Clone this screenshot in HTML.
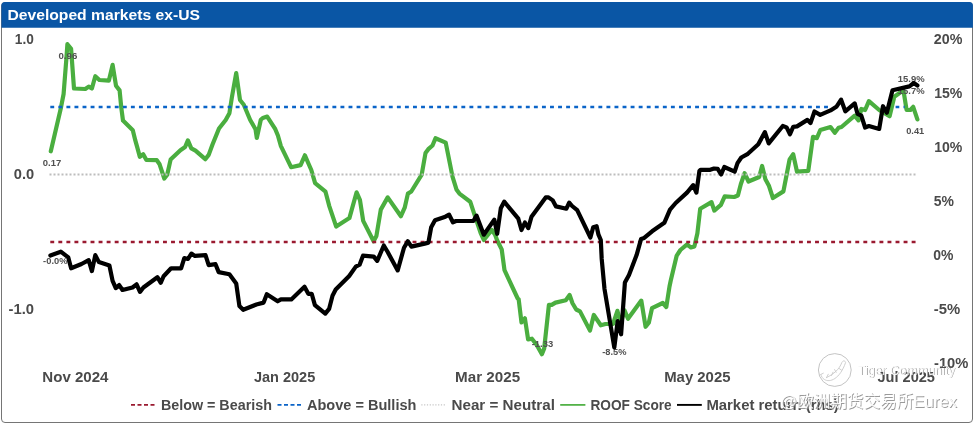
<!DOCTYPE html>
<html><head><meta charset="utf-8"><title>Developed markets ex-US</title>
<style>
html,body{margin:0;padding:0;background:#fff;}
body{width:975px;height:424px;overflow:hidden;position:relative;font-family:"Liberation Sans","Noto Sans CJK SC",sans-serif;}
svg{position:absolute;left:0;top:0;display:block}
text{font-family:"Liberation Sans","Noto Sans CJK SC",sans-serif;}
.ax{font-weight:bold;font-size:14.3px;fill:#4a4a4a}
.lb{font-weight:bold;font-size:9.8px;fill:#505050}
.wm{fill:#fff;fill-opacity:0.92}
.wms{fill:#888;fill-opacity:0.85}
</style></head><body>
<svg width="975" height="424" viewBox="0 0 975 424">
<rect x="0" y="0" width="975" height="424" fill="#fff"/>
<!-- frame -->
<rect x="1.5" y="2.5" width="971" height="420" rx="3.5" ry="3.5" fill="#fff" stroke="#757575" stroke-width="1"/>
<path d="M1.4,27.8 V5.5 Q1.4,1.9 5,1.9 H969.3 Q972.9,1.9 972.9,5.5 V27.8 Z" fill="#0a56a5"/>
<text x="7.4" y="20.4" font-weight="bold" font-size="15.5" fill="#fff" textLength="192.6" lengthAdjust="spacingAndGlyphs">Developed markets ex-US</text>

<!-- reference lines -->

<!-- series -->
<path d="M50.8,151.3 L61.0,107.4 L63.6,94.0 L66.4,58.3 L67.4,44.2 L71.1,48.9 L74.0,88.5 L85.3,89.0 L88.7,86.6 L91.9,88.5 L95.3,76.2 L99.4,80.0 L108.9,80.6 L112.6,64.9 L116.0,85.7 L119.6,90.4 L121.3,107.8 L123.0,120.6 L132.8,130.2 L135.3,140.4 L137.0,146.4 L139.8,156.8 L143.2,154.3 L146.4,160.0 L156.8,160.2 L159.6,164.3 L164.3,178.5 L167.2,174.7 L170.6,159.6 L180.4,150.2 L185.1,147.0 L187.9,140.4 L191.3,148.3 L195.5,150.6 L205.3,159.2 L208.7,154.9 L212.5,144.5 L219.0,128.5 L225.7,120.0 L229.4,113.2 L231.9,97.2 L236.2,73.0 L240.0,100.0 L243.8,104.7 L250.2,120.0 L255.5,129.2 L256.8,138.0 L260.8,119.8 L262.8,118.0 L267.2,116.6 L275.3,129.2 L277.9,135.5 L280.8,145.8 L291.1,167.2 L300.6,165.1 L304.9,155.3 L308.1,162.8 L311.3,170.0 L315.1,183.2 L325.5,191.7 L329.2,205.8 L336.2,226.6 L349.4,218.1 L356.6,192.3 L360.0,200.2 L363.2,220.9 L373.6,241.3 L376.4,236.0 L380.8,209.6 L387.7,197.4 L400.9,216.2 L404.7,207.7 L407.9,193.6 L411.3,191.5 L421.7,174.7 L425.5,153.0 L428.3,149.2 L432.5,145.5 L435.5,138.3 L445.7,142.6 L452.5,176.6 L456.6,189.8 L459.4,193.6 L470.2,201.7 L474.9,215.8 L480.6,232.8 L483.8,240.0 L491.9,230.0 L495.1,234.7 L497.0,240.0 L501.7,249.4 L504.5,270.2 L517.7,298.5 L518.7,299.4 L521.5,322.5 L524.9,318.3 L528.1,339.4 L531.9,338.7 L536.6,344.7 L541.9,354.2 L544.2,348.5 L548.9,304.9 L551.7,304.9 L555.5,302.6 L565.8,300.2 L569.6,295.0 L572.5,303.2 L576.2,309.5 L580.0,311.4 L590.0,330.6 L593.8,315.0 L600.8,325.3 L605.5,324.0 L613.0,324.0 L617.4,310.8 L620.6,323.0 L624.5,310.3 L628.0,318.8 L641.3,300.6 L645.6,326.8 L648.8,322.8 L652.0,308.2 L662.8,303.0 L666.3,307.0 L669.5,286.5 L670.7,280.7 L676.6,255.9 L680.4,250.0 L687.1,244.4 L690.8,247.5 L694.4,246.4 L697.4,233.2 L700.2,208.7 L711.5,202.1 L714.3,210.6 L720.9,204.9 L724.7,196.4 L734.2,197.0 L737.9,195.5 L740.8,184.2 L744.6,173.2 L748.5,181.5 L759.2,177.0 L762.1,166.0 L765.4,179.2 L768.8,185.4 L772.9,198.0 L783.4,191.4 L786.0,178.0 L789.6,159.5 L793.2,154.3 L797.0,171.7 L808.3,170.8 L813.0,136.8 L816.8,138.2 L820.3,130.0 L830.5,127.0 L834.8,132.8 L838.6,127.8 L841.5,127.0 L854.7,115.7 L858.5,120.4 L861.3,109.0 L865.1,110.0 L868.9,101.1 L879.2,110.0 L889.6,116.2 L894.3,96.8 L903.4,90.2 L906.6,110.0 L910.4,110.0 L913.2,106.8 L917.4,119.4" fill="none" stroke="#4aae3f" stroke-width="4.2" stroke-linejoin="round" stroke-linecap="round"/>
<line x1="49.5" y1="174.5" x2="916.5" y2="174.5" stroke="#bdbdbd" stroke-width="2" stroke-dasharray="2 2"/>
<line x1="50.3" y1="107" x2="829" y2="107" stroke="#0b64c8" stroke-width="2.7" stroke-dasharray="3.9 4.16"/>
<path d="M895.6,107 H899.3 M903.5,107 H904.7" stroke="#0b64c8" stroke-width="2.7" fill="none"/>
<line x1="50.3" y1="242" x2="916" y2="242" stroke="#9a1a30" stroke-width="2.7" stroke-dasharray="3.9 4.15"/>
<!-- data labels -->
<text class="lb" x="42.8" y="165.6" textLength="18.4" lengthAdjust="spacingAndGlyphs">0.17</text>
<text class="lb" x="58.5" y="58.8" textLength="18.8" lengthAdjust="spacingAndGlyphs">0.96</text>
<text class="lb" x="43.1" y="263.7" textLength="24.4" lengthAdjust="spacingAndGlyphs">-0.0%</text>
<text class="lb" x="531.7" y="346.5" textLength="21.5" lengthAdjust="spacingAndGlyphs">-1.33</text>
<text class="lb" x="602.2" y="355.2" textLength="24.3" lengthAdjust="spacingAndGlyphs">-8.5%</text>
<text class="lb" x="897.8" y="82.2" textLength="26.8" lengthAdjust="spacingAndGlyphs">15.9%</text>
<text class="lb" x="897.8" y="93.6" textLength="26.8" lengthAdjust="spacingAndGlyphs">15.7%</text>
<text class="lb" x="906.2" y="133.7" textLength="18" lengthAdjust="spacingAndGlyphs">0.41</text>

<path d="M50.4,255.5 L60.8,251.7 L68.3,257.4 L71.1,268.3 L81.5,264.0 L88.7,260.2 L91.9,271.1 L95.3,255.1 L98.9,262.1 L109.4,265.5 L112.6,280.9 L115.8,288.1 L119.2,285.1 L122.5,290.0 L132.5,287.5 L136.6,284.3 L140.0,291.9 L143.4,287.5 L157.4,277.2 L160.8,282.8 L163.6,276.2 L171.1,268.3 L181.1,268.3 L184.3,258.1 L188.0,259.0 L191.4,253.6 L194.9,255.9 L205.5,255.1 L208.7,265.1 L215.5,264.2 L218.7,272.1 L229.4,274.3 L236.2,283.4 L239.4,306.0 L243.2,309.8 L256.4,304.5 L263.6,302.6 L266.8,294.2 L277.7,301.3 L280.9,299.4 L291.3,299.4 L304.5,286.8 L308.3,293.8 L311.7,293.8 L314.9,305.1 L325.3,313.6 L329.1,308.9 L332.5,295.7 L335.7,289.5 L349.2,276.0 L355.8,266.6 L359.6,264.7 L363.0,255.7 L373.8,256.6 L377.2,260.9 L383.8,245.5 L387.4,251.5 L397.7,270.4 L404.0,247.7 L407.8,241.2 L411.4,246.6 L424.7,243.6 L428.4,242.6 L431.2,227.2 L435.0,220.2 L445.4,216.7 L449.1,214.6 L452.9,222.3 L456.0,221.0 L473.4,221.0 L476.5,215.6 L483.8,234.7 L494.3,219.6 L497.2,233.8 L500.8,208.3 L504.2,201.7 L518.3,218.7 L521.5,230.0 L524.9,222.5 L528.3,228.1 L531.5,216.8 L545.7,197.4 L548.5,197.4 L552.8,200.4 L556.0,206.4 L566.4,208.7 L569.2,202.6 L572.1,206.0 L577.2,210.2 L590.4,237.5 L593.2,227.2 L596.6,226.2 L598.5,234.7 L600.8,240.0 L601.7,258.9 L604.5,289.0 L614.3,347.5 L617.7,321.1 L621.1,334.3 L624.9,282.5 L629.0,274.9 L636.6,255.1 L641.1,238.9 L644.2,237.9 L652.1,231.3 L664.3,222.8 L670.0,209.6 L675.7,203.0 L687.0,192.6 L693.2,185.1 L696.4,192.6 L699.4,171.0 L700.6,169.8 L710.2,169.8 L714.0,168.5 L717.7,168.9 L721.1,174.5 L724.3,167.0 L734.7,171.7 L737.5,163.2 L741.3,157.5 L747.9,153.8 L758.3,144.3 L764.9,132.1 L768.7,143.4 L782.8,126.0 L786.6,127.4 L790.0,134.3 L793.2,126.8 L797.0,126.4 L807.4,119.9 L810.5,123.1 L814.5,111.5 L820.2,114.9 L830.5,110.4 L836.7,106.4 L841.1,99.6 L845.3,111.3 L854.7,103.4 L857.5,113.8 L861.3,115.7 L865.1,127.5 L868.9,126.0 L879.2,128.9 L883.0,106.2 L886.8,112.8 L892.5,90.2 L909.4,86.4 L913.8,83.0 L917.4,85.5" fill="none" stroke="#000" stroke-width="4.2" stroke-linejoin="round" stroke-linecap="round"/>

<!-- left axis -->
<text class="ax" x="14.8" y="44.0" textLength="19" lengthAdjust="spacingAndGlyphs">1.0</text>
<text class="ax" x="13.8" y="178.8" textLength="20.4" lengthAdjust="spacingAndGlyphs">0.0</text>
<text class="ax" x="8.5" y="314.2" textLength="25.5" lengthAdjust="spacingAndGlyphs">-1.0</text>
<!-- right axis -->
<text class="ax" x="933.8" y="44.0" textLength="28.6" lengthAdjust="spacingAndGlyphs">20%</text>
<text class="ax" x="934.2" y="98.1" textLength="28.2" lengthAdjust="spacingAndGlyphs">15%</text>
<text class="ax" x="934.2" y="152.2" textLength="28.2" lengthAdjust="spacingAndGlyphs">10%</text>
<text class="ax" x="933.7" y="206.0" textLength="20.2" lengthAdjust="spacingAndGlyphs">5%</text>
<text class="ax" x="933.3" y="260.2" textLength="20.2" lengthAdjust="spacingAndGlyphs">0%</text>
<text class="ax" x="933.7" y="314.1" textLength="26.4" lengthAdjust="spacingAndGlyphs">-5%</text>
<text class="ax" x="934" y="367.9" textLength="34.4" lengthAdjust="spacingAndGlyphs">-10%</text>
<!-- x axis -->
<text class="ax" x="42.3" y="381.7" textLength="66.2" lengthAdjust="spacingAndGlyphs">Nov 2024</text>
<text class="ax" x="253.9" y="381.7" textLength="61.4" lengthAdjust="spacingAndGlyphs">Jan 2025</text>
<text class="ax" x="455.1" y="381.7" textLength="65" lengthAdjust="spacingAndGlyphs">Mar 2025</text>
<text class="ax" x="664.2" y="381.7" textLength="66.3" lengthAdjust="spacingAndGlyphs">May 2025</text>
<text class="ax" x="877.4" y="381.7" textLength="57.6" lengthAdjust="spacingAndGlyphs">Jul 2025</text>

<!-- legend -->
<line x1="131" y1="404.9" x2="157" y2="404.9" stroke="#9a1a30" stroke-width="1.6" stroke-dasharray="4 2.5"/>
<text class="ax" x="160.9" y="410.4" textLength="111" lengthAdjust="spacingAndGlyphs">Below = Bearish</text>
<line x1="277.5" y1="404.9" x2="303.5" y2="404.9" stroke="#0b64c8" stroke-width="1.6" stroke-dasharray="4 2.5"/>
<text class="ax" x="307" y="410.4" textLength="109.4" lengthAdjust="spacingAndGlyphs">Above = Bullish</text>
<line x1="421.3" y1="404.9" x2="446.5" y2="404.9" stroke="#c6c6c6" stroke-width="1.4" stroke-dasharray="1.2 1.6"/>
<text class="ax" x="451.5" y="410.4" textLength="103.4" lengthAdjust="spacingAndGlyphs">Near = Neutral</text>
<line x1="560.2" y1="404.9" x2="585.4" y2="404.9" stroke="#4aae3f" stroke-width="1.7"/>
<text class="ax" x="590.4" y="410.4" textLength="81.3" lengthAdjust="spacingAndGlyphs">ROOF Score</text>
<line x1="677" y1="404.9" x2="701.8" y2="404.9" stroke="#000" stroke-width="1.9"/>
<text class="ax" x="706.4" y="410.4" textLength="132.4" lengthAdjust="spacingAndGlyphs">Market return (rhs)</text>

<!-- watermark -->
<g>
<circle cx="834.8" cy="370" r="16.4" fill="none" stroke="#c4c4c4" stroke-width="1"/>
<path d="M820.8,374.5 C823,384 838,384.5 845.6,362.5 C845,360.3 843,360.3 841.8,362.6 C839.5,369 834,374 826.5,377.6 M826.5,377.6 L828.3,374.2 M831.5,375.5 L833,372.2 M836.2,372.3 L834.6,369.6 M839.3,368.6 L841.6,370.2 M820.8,374.5 L823.3,373.2" fill="none" stroke="#c9c9c9" stroke-width="0.9" stroke-linecap="round" stroke-linejoin="round"/>
<text class="wms" x="858.3" y="375.2" font-size="12.5" textLength="97.5" lengthAdjust="spacingAndGlyphs">Tiger Community</text>
<text class="wm" x="857.6" y="374.5" font-size="12.5" textLength="97.5" lengthAdjust="spacingAndGlyphs">Tiger Community</text>
<text class="wms" x="781.0" y="408.0" font-size="17" textLength="176.8" lengthAdjust="spacingAndGlyphs">@欧洲期货交易所Eurex</text>
<text class="wm" x="780.2" y="407.2" font-size="17" textLength="176.8" lengthAdjust="spacingAndGlyphs">@欧洲期货交易所Eurex</text>
</g>
</svg>
</body></html>
